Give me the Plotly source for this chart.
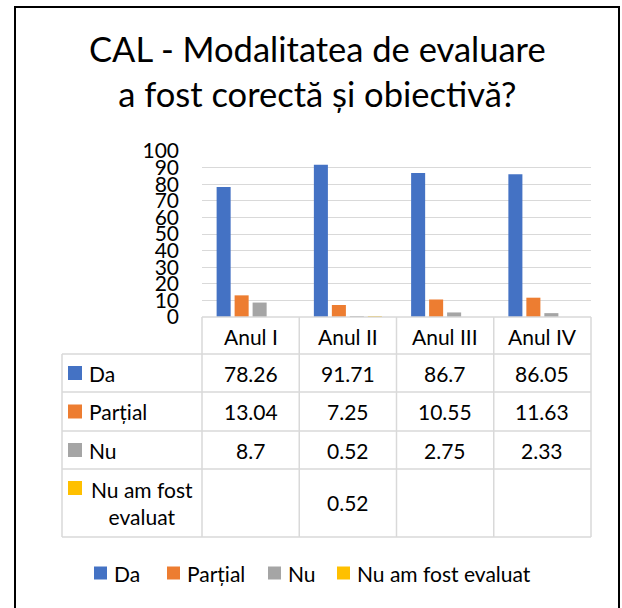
import plotly.graph_objects as go

# ---------------- data ----------------
categories = ["Anul I", "Anul II", "Anul III", "Anul IV"]
series_names = ["Da", "Parțial", "Nu", "Nu am fost evaluat"]
table_labels = ["Da", "Parțial", "Nu", "Nu am fost<br>evaluat"]
da = [78.26, 91.71, 86.7, 86.05]
partial = [13.04, 7.25, 10.55, 11.63]
nu = [8.7, 0.52, 2.75, 2.33]
nu_evaluat = [None, 0.52, None, None]
colors = ["#4472C4", "#ED7D31", "#A5A5A5", "#FFC000"]
y_ticks = [0, 10, 20, 30, 40, 50, 60, 70, 80, 90, 100]
title_text = "CAL - Modalitatea de evaluare<br>a fost corectă și obiectivă?"

series_values = [da, partial, nu, nu_evaluat]

# ---------------- geometry (pixels) ----------------
W, H = 622, 608
L, R, T, B = 202, 591, 151, 317
FONT = "Lato"
GRID = "#D9D9D9"


def px2x(px):
    return (px - L) / (R - L)


def py2y(py):
    return (B - py) / (B - T)


fig = go.Figure()
for name, vals, col in zip(series_names, series_values, colors):
    fig.add_trace(go.Bar(x=list(range(len(categories))), y=vals, name=name,
                         marker=dict(color=col, line=dict(width=0)),
                         showlegend=False, hoverinfo="skip"))

shapes = []
annotations = []

# table horizontal lines
row_bounds = [354, 392, 431, 469, 537]
shapes.append(dict(type="line", xref="paper", yref="paper", x0=0, x1=1,
                   y0=0, y1=0, line=dict(color=GRID, width=1.5)))
for rb in row_bounds:
    shapes.append(dict(type="line", xref="paper", yref="paper", x0=px2x(62), x1=1,
                       y0=py2y(rb), y1=py2y(rb), line=dict(color=GRID, width=1.5)))
# vertical lines
shapes.append(dict(type="line", xref="paper", yref="paper", x0=px2x(62), x1=px2x(62),
                   y0=py2y(354), y1=py2y(537), line=dict(color=GRID, width=1.5)))
for e in [0.0, 1.0]:
    shapes.append(dict(type="line", xref="paper", yref="paper", x0=e, x1=e,
                       y0=0, y1=py2y(537), line=dict(color=GRID, width=1.5)))
for i in range(len(categories) - 1):
    shapes.append(dict(type="line", xref="x", yref="paper", x0=i + 0.5, x1=i + 0.5,
                       y0=0, y1=py2y(537), line=dict(color=GRID, width=1.5)))

FS = 21
# header
for i, c in enumerate(categories):
    annotations.append(dict(xref="x", yref="paper", x=i, y=py2y(336), text=c,
                            showarrow=False, font=dict(family=FONT, size=FS, color="#000"),
                            xanchor="center", yanchor="middle"))
row_centers = [373, 411.5, 450, 503]
for r, (lab, vals, col) in enumerate(zip(table_labels, series_values, colors)):
    yc = row_centers[r]
    sq_y = yc if r < 3 else 488
    shapes.append(dict(type="rect", xref="paper", yref="paper", x0=px2x(68), x1=px2x(82),
                       y0=py2y(sq_y - 7), y1=py2y(sq_y + 7), fillcolor=col, line=dict(width=0)))
    if r < 3:
        annotations.append(dict(xref="paper", yref="paper", x=px2x(87), y=py2y(yc), text=lab,
                                showarrow=False, font=dict(family=FONT, size=FS, color="#000"),
                                xanchor="left", yanchor="middle"))
    else:
        annotations.append(dict(xref="paper", yref="paper", x=px2x(142), y=py2y(yc), text=lab,
                                showarrow=False, align="center",
                                font=dict(family=FONT, size=FS, color="#000"),
                                xanchor="center", yanchor="middle"))
    for i, v in enumerate(vals):
        if v is None:
            continue
        annotations.append(dict(xref="x", yref="paper", x=i, y=py2y(yc), text=f"{v:g}",
                                showarrow=False, font=dict(family=FONT, size=FS, color="#000"),
                                xanchor="center", yanchor="middle"))

# legend (manual)
leg_sq = [94, 167, 268, 337]
LEG_Y = 573
for name, col, sx in zip(series_names, colors, leg_sq):
    shapes.append(dict(type="rect", xref="paper", yref="paper", x0=px2x(sx), x1=px2x(sx + 13),
                       y0=py2y(LEG_Y - 6.5), y1=py2y(LEG_Y + 6.5), fillcolor=col, line=dict(width=0)))
    annotations.append(dict(xref="paper", yref="paper", x=px2x(sx + 18), y=py2y(LEG_Y), text=name,
                            showarrow=False, font=dict(family=FONT, size=FS, color="#000"),
                            xanchor="left", yanchor="middle"))

# title
annotations.append(dict(xref="paper", yref="paper", x=px2x(317), y=py2y(71), text=title_text,
                        showarrow=False, font=dict(family=FONT, size=34.5, color="#000"),
                        xanchor="center", yanchor="middle", align="center"))

# outer border
shapes.append(dict(type="rect", xref="paper", yref="paper", x0=px2x(15), x1=px2x(619),
                   y0=py2y(7), y1=py2y(640), line=dict(color="#000", width=2)))

fig.update_layout(
    width=W, height=H,
    margin=dict(l=L, r=W - R, t=T, b=H - B, pad=0),
    paper_bgcolor="white", plot_bgcolor="white",
    bargap=0.26, bargroupgap=0.22, barmode="group",
    xaxis=dict(range=[-0.5, 3.5], showticklabels=False, showgrid=False, zeroline=False,
               showline=False, ticks="", fixedrange=True),
    yaxis=dict(range=[0, 100], tickvals=y_ticks, showgrid=True, gridcolor=GRID, gridwidth=1.3,
               zeroline=False, showline=False, ticks="", ticklabelstandoff=22,
               tickfont=dict(family=FONT, size=FS, color="#000"), fixedrange=True),
    shapes=shapes, annotations=annotations,
    font=dict(family=FONT),
)

fig.write_html("out.html",
               config={"displayModeBar": False},
               post_script="document.body.style.margin='0';document.body.style.overflow='hidden';")
